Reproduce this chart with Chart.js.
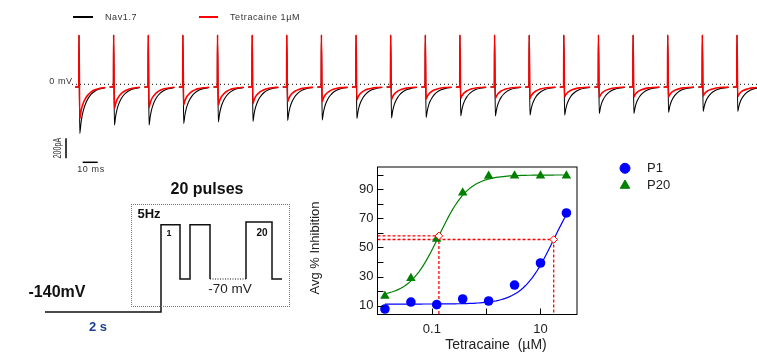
<!DOCTYPE html>
<html>
<head>
<meta charset="utf-8">
<script src="https://cdn.jsdelivr.net/npm/chart.js@4.4.1/dist/chart.umd.min.js"></script>
<style>
  body { margin: 0; background: #fff; width: 757px; height: 354px; overflow: hidden; position: relative;
         font-family: "Liberation Sans", Arial, sans-serif; }
  canvas { position: absolute; }
  .t { position: absolute; white-space: nowrap; line-height: 1; }
  .c { transform: translate(-50%, -50%); }
  .l { transform: translateY(-50%); }
  .small { font-size: 9px; color: #333; letter-spacing: 0.6px; }
  .key { position: absolute; height: 2px; }
</style>
</head>
<body>
<canvas id="traces" width="757" height="172" style="left:0;top:0"></canvas>
<canvas id="protocol" width="330" height="179" style="left:0;top:175px"></canvas>
<canvas id="dose" width="457" height="204" style="left:300px;top:150px"></canvas>

<div class="key" style="left:73px;top:16px;width:20px;background:#000"></div>
<div class="t l small" style="left:105px;top:17px">Nav1.7</div>
<div class="key" style="left:199px;top:16px;width:19px;background:#ff0000"></div>
<div class="t l small" style="left:230px;top:17px">Tetracaine 1µM</div>
<div class="t c small" style="left:61px;top:81px">0 mV</div>
<div class="t c" style="left:58px;top:148px;font-size:10px;color:#333;transform:translate(-50%,-50%) rotate(-90deg) scaleX(0.72)">200pA</div>
<div class="t c small" style="left:91px;top:169px">10 ms</div>

<div style="position:absolute;left:131px;top:204px;width:157px;height:101px;border:1px dotted #777"></div>
<div class="t c" style="left:207px;top:189px;font-size:16px;font-weight:bold;color:#111">20 pulses</div>
<div class="t c" style="left:149px;top:213px;font-size:13px;font-weight:bold;color:#111">5Hz</div>
<div class="t c" style="left:169px;top:233px;font-size:9px;font-weight:bold;color:#111">1</div>
<div class="t c" style="left:262px;top:233px;font-size:10px;font-weight:bold;color:#111">20</div>
<div class="t c" style="left:230px;top:289px;font-size:13.5px;color:#222">-70 mV</div>
<div class="t c" style="left:57px;top:292px;font-size:16px;font-weight:bold;color:#111">-140mV</div>
<div class="t c" style="left:98px;top:326px;font-size:13px;font-weight:bold;color:#1c3f94">2 s</div>

<div class="t c" style="left:314px;top:248px;font-size:13px;color:#222;transform:translate(-50%,-50%) rotate(-90deg)">Avg % Inhibition</div>
<div class="t c" style="left:496px;top:344px;font-size:14px;color:#222">Tetracaine&nbsp; (µM)</div>

<script>
// ---- current traces (peak inward current per pulse, pA) ----
const pulseCount = 20;
const controlPeak = [-465, -380, -380, -365, -350, -345, -335, -330, -315, -310,
                     -305, -290, -290, -280, -280, -265, -265, -255, -245, -245];
const drugPeak = [-315, -215, -205, -180, -180, -165, -150, -145, -130, -125,
                  -120, -115, -115, -115, -100, -105, -100, -100, -90, -95];
const spikeCurrent = 520;               // capacitive transient, clipped
const preSpikeMs = [-2.7, -0.15];
const decayMs = [0.5, 1.3, 2.2, 3.2, 4.5, 6, 8, 10.5, 13.5, 17.5];
const decayFraction = [1, 0.78, 0.6, 0.47, 0.35, 0.25, 0.16, 0.09, 0.045, 0.015];
const zeroMvLevel = 27;
const scaleBarCurrent = 200;  // pA
const scaleBarTime = 10;      // ms

// ---- protocol (schematic) ----
const protocolX = [45, 161, 161, 180, 180, 190, 190, 210, 210];
const protocolLevel = [-140, -140, 45, 45, -70, -70, 45, 45, -70];
const protocolGapX = [210, 246];
const protocolGapLevel = [-70, -70];
const protocolEndX = [246, 246, 272, 272, 282];
const protocolEndLevel = [-70, 51, 51, -70, -70];

// ---- dose response ----
const concentrations = [0.0137, 0.0412, 0.123, 0.370, 1.11, 3.33, 10, 30];
const p1Inhibition = [7.6, 12.4, 10.6, 14.5, 13.1, 24.1, 39.3, 73.8];
const p20Inhibition = [16.6, 28.8, 55.9, 87.8, 99.3, 99.5, 99.5, 99.5];
const p1Fit = { bottom: 11, top: 100, ic50: 17.5, hill: 1.5 };
const p20Fit = { bottom: 16, top: 100, ic50: 0.135, hill: 1.6 };
const yTicks = [10, 20, 30, 40, 50, 60, 70, 80, 90, 100];
const yTickLabels = [10, 30, 50, 70, 90];
const xTicks = [0.1, 1, 10];
const xTickLabels = { 0.1: '0.1', 10: '10' };

const RED = '#ff0000', BLUE = '#0000ff', GREEN = '#008000';
const FONT = '"Liberation Sans", Arial, sans-serif';

// traces
const firstSpikeMs = 79 / 1.5;
const sweepSpacingMs = 34.63 / 1.5;
function buildTrace(peaks) {
  const pts = [];
  for (let i = 0; i < pulseCount; i++) {
    const t0 = firstSpikeMs + i * sweepSpacingMs;
    preSpikeMs.forEach(dt => pts.push({ x: t0 + dt, y: 0 }));
    pts.push({ x: t0, y: spikeCurrent });
    decayMs.forEach((dt, k) => pts.push({ x: t0 + dt, y: peaks[i] * decayFraction[k] }));
    pts.push({ x: t0 + 19, y: null });
  }
  return pts;
}
const barX = 44, barY = -713;
new Chart(document.getElementById('traces'), {
  type: 'line',
  data: {
    datasets: [
      { data: [{ x: 48, y: zeroMvLevel }, { x: 757 / 1.5, y: zeroMvLevel }], borderColor: '#000',
        borderWidth: 1, borderDash: [1, 3], order: 4 },
      { data: buildTrace(controlPeak), borderColor: '#000', borderWidth: 1.1, order: 2 },
      { data: buildTrace(drugPeak), borderColor: RED, borderWidth: 1.6, order: 1 },
      { data: [{ x: barX, y: barY }, { x: barX, y: barY + scaleBarCurrent }], borderColor: '#000', borderWidth: 1.5, order: 0 },
      { data: [{ x: 55.1, y: -753 }, { x: 55.1 + scaleBarTime, y: -753 }], borderColor: '#000', borderWidth: 1.5, order: 0 }
    ]
  },
  options: {
    animation: false, responsive: false, devicePixelRatio: 1,
    layout: { padding: 0 },
    plugins: { legend: { display: false }, tooltip: { enabled: false } },
    elements: { point: { radius: 0 }, line: { cubicInterpolationMode: 'monotone' } },
    scales: {
      x: { type: 'linear', display: false, min: 0, max: 757 / 1.5 },
      y: { display: false, min: -850, max: 870 }
    }
  }
});

// protocol
const zip = (xs, ys) => xs.map((x, i) => ({ x, y: ys[i] }));
new Chart(document.getElementById('protocol'), {
  type: 'line',
  data: {
    datasets: [
      { data: zip(protocolX, protocolLevel), borderColor: '#111', borderWidth: 1.5 },
      { data: zip(protocolGapX, protocolGapLevel), borderColor: '#111', borderWidth: 1.2, borderDash: [1, 1.5] },
      { data: zip(protocolEndX, protocolEndLevel), borderColor: '#111', borderWidth: 1.5 }
    ]
  },
  options: {
    animation: false, responsive: false, devicePixelRatio: 1,
    layout: { padding: 0 },
    plugins: { legend: { display: false }, tooltip: { enabled: false } },
    elements: { point: { radius: 0 }, line: { tension: 0, borderJoinStyle: 'miter' } },
    scales: {
      x: { type: 'linear', display: false, min: 0, max: 330 },
      y: { display: false, min: -229.1, max: 150.6 }
    }
  }
});

// dose response
const X_MIN = 0.01, X_MAX = 47, Y_MIN = 3.8, Y_MAX = 105.5;
function hillCurve(fit) {
  const pts = [];
  const a = Math.log10(concentrations[0]), b = Math.log10(concentrations[concentrations.length - 1]);
  for (let k = 0; k <= 80; k++) {
    const c = Math.pow(10, a + (b - a) * k / 80);
    pts.push({ x: c, y: fit.bottom + (fit.top - fit.bottom) / (1 + Math.pow(fit.ic50 / c, fit.hill)) });
  }
  return pts;
}
const half = f => (f.bottom + f.top) / 2;
const dash = pts => ({ data: pts, showLine: true, borderColor: RED, backgroundColor: RED, borderWidth: 1.3,
                       borderDash: [3, 2], pointRadius: 0, order: 4 });

const frame = {
  id: 'frame',
  afterDraw(chart) {
    const { ctx, chartArea: a, scales: { x, y } } = chart;
    ctx.save();
    ctx.strokeStyle = '#000';
    ctx.lineWidth = 1;
    ctx.strokeRect(a.left, a.top, a.right - a.left, a.bottom - a.top);
    ctx.beginPath();
    yTicks.forEach(v => {
      const py = Math.round(y.getPixelForValue(v)) + 0.5;
      ctx.moveTo(a.left, py); ctx.lineTo(a.left + 6, py);
    });
    xTicks.forEach(v => {
      const px = Math.round(x.getPixelForValue(v)) + 0.5;
      ctx.moveTo(px, a.bottom); ctx.lineTo(px, a.bottom - 6);
    });
    ctx.stroke();
    // legend
    const items = [
      { style: 'circle', color: BLUE, r: 5, label: 'P1', y: 18.3 },
      { style: 'triangle', color: GREEN, r: 5.5, label: 'P20', y: 35.5 }
    ];
    items.forEach(it => {
      ctx.fillStyle = it.color; ctx.strokeStyle = it.color;
      Chart.helpers.drawPoint(ctx, { pointStyle: it.style, radius: it.r, borderWidth: 1, rotation: 0 }, 325, it.y);
      ctx.fillStyle = '#222';
      ctx.font = '13px ' + FONT;
      ctx.textBaseline = 'middle';
      ctx.fillText(it.label, 347, it.y);
    });
    ctx.restore();
  }
};

new Chart(document.getElementById('dose'), {
  type: 'scatter',
  data: {
    datasets: [
      { data: hillCurve(p20Fit), showLine: true, borderColor: GREEN, borderWidth: 1.2, pointRadius: 0, order: 5 },
      { data: hillCurve(p1Fit), showLine: true, borderColor: BLUE, borderWidth: 1.2, pointRadius: 0, order: 5 },
      dash([{ x: X_MIN, y: half(p20Fit) }, { x: p20Fit.ic50, y: half(p20Fit) }]),
      dash([{ x: p20Fit.ic50, y: half(p20Fit) }, { x: p20Fit.ic50, y: Y_MIN }]),
      dash([{ x: X_MIN, y: half(p1Fit) }, { x: p1Fit.ic50, y: half(p1Fit) }]),
      dash([{ x: p1Fit.ic50, y: half(p1Fit) }, { x: p1Fit.ic50, y: Y_MIN }]),
      { data: zip(concentrations, p1Inhibition), pointStyle: 'circle', pointRadius: 4.8,
        backgroundColor: BLUE, borderColor: BLUE, borderWidth: 0, order: 2 },
      { data: zip(concentrations, p20Inhibition), pointStyle: 'triangle', pointRadius: 5.5,
        backgroundColor: GREEN, borderColor: GREEN, borderWidth: 0, order: 2 },
      { data: [{ x: p20Fit.ic50, y: half(p20Fit) }, { x: p1Fit.ic50, y: half(p1Fit) }], pointStyle: 'rectRot',
        pointRadius: 3.8, backgroundColor: '#fff', borderColor: RED, borderWidth: 1, order: 1 }
    ]
  },
  options: {
    animation: false, responsive: false, devicePixelRatio: 1,
    layout: { padding: { top: 17, right: 180, left: 0, bottom: 0 } },
    plugins: { legend: { display: false }, tooltip: { enabled: false } },
    scales: {
      x: {
        type: 'logarithmic', min: X_MIN, max: X_MAX,
        grid: { display: false, drawTicks: false }, border: { display: false },
        afterBuildTicks: s => { s.ticks = xTicks.map(v => ({ value: v })); },
        afterFit: s => { s.height = 39.5; },
        ticks: { autoSkip: false, maxRotation: 0, padding: 7, color: '#222', font: { family: FONT, size: 13 },
                 callback: v => xTickLabels[v] || '' }
      },
      y: {
        min: Y_MIN, max: Y_MAX,
        grid: { display: false, drawTicks: false }, border: { display: false },
        afterBuildTicks: s => { s.ticks = yTicks.map(v => ({ value: v })); },
        afterFit: s => { s.width = 77.5; },
        ticks: { autoSkip: false, padding: 4, color: '#222', font: { family: FONT, size: 13 },
                 callback: v => yTickLabels.includes(v) ? String(v) : '' }
      }
    }
  },
  plugins: [frame]
});
</script>
</body>
</html>
